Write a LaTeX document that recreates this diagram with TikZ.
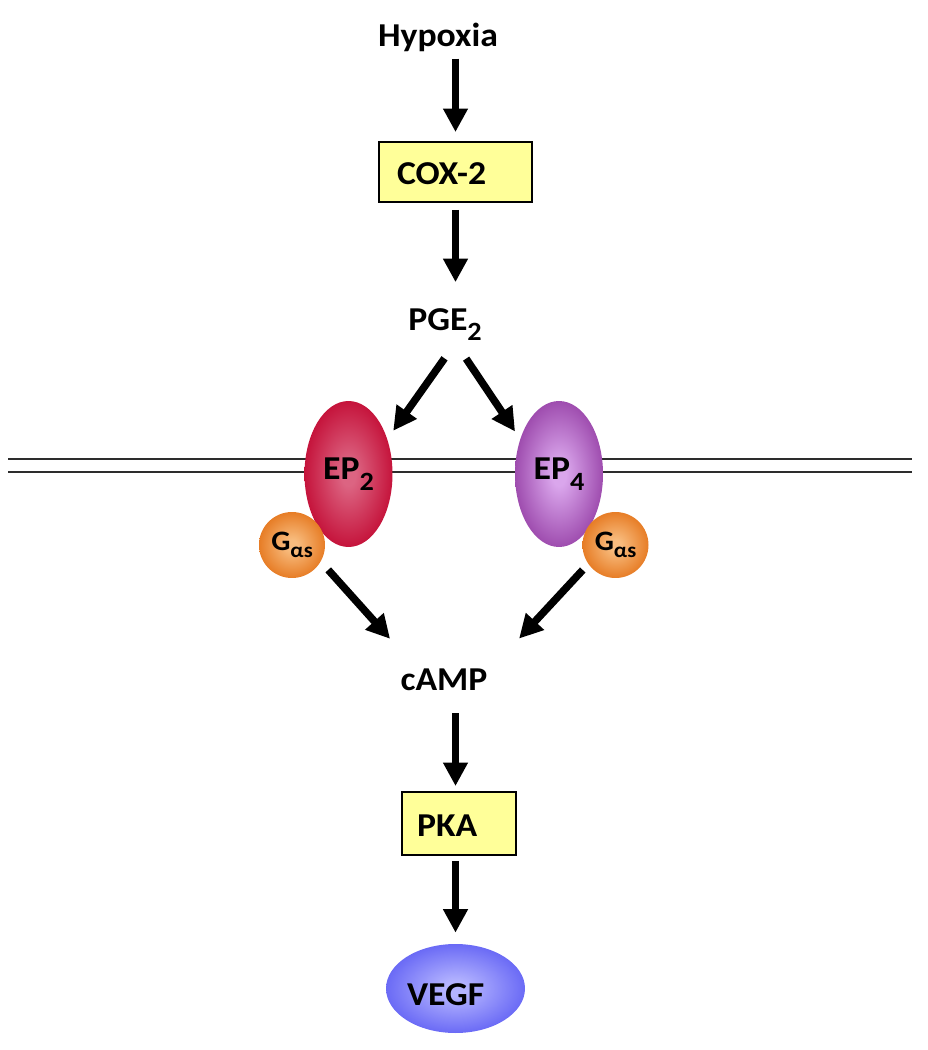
\documentclass[tikz,border=0pt]{standalone}
\usepackage{fontspec}
\setmainfont{Carlito}[FakeStretch=1.07]
\usetikzlibrary{arrows.meta,shapes.geometric}

\definecolor{boxyellow}{RGB}{255,255,153}
\definecolor{eptwoin}{RGB}{220,100,130}
\definecolor{eptwoout}{RGB}{196,16,56}
\definecolor{eptwoedge}{RGB}{176,10,46}
\definecolor{epfourin}{RGB}{218,166,236}
\definecolor{epfourout}{RGB}{150,64,166}
\definecolor{epfouredge}{RGB}{120,36,134}
\definecolor{gasin}{RGB}{248,188,126}
\definecolor{gasout}{RGB}{230,122,34}
\definecolor{gasedge}{RGB}{216,106,20}
\definecolor{vegfin}{RGB}{180,180,255}
\definecolor{vegfout}{RGB}{96,96,244}
\definecolor{vegfedge}{RGB}{78,78,234}
\definecolor{membranegray}{RGB}{45,45,45}

\pgfdeclareradialshading{eptwoshade}{\pgfpoint{0bp}{0bp}}{color(0bp)=(eptwoin); color(4bp)=(eptwoin); color(26bp)=(eptwoout); color(46bp)=(eptwoedge)}
\pgfdeclareradialshading{epfourshade}{\pgfpoint{0bp}{0bp}}{color(0bp)=(epfourin); color(4bp)=(epfourin); color(28bp)=(epfourout); color(46bp)=(epfouredge)}
\pgfdeclareradialshading{gasshade}{\pgfpoint{0bp}{0bp}}{color(0bp)=(gasin); color(4bp)=(gasin); color(26bp)=(gasout); color(46bp)=(gasedge)}
\pgfdeclareradialshading{vegfshade}{\pgfpoint{0bp}{0bp}}{color(0bp)=(vegfin); color(4bp)=(vegfin); color(28bp)=(vegfout); color(46bp)=(vegfedge)}

\newcommand{\lowsub}[1]{\raisebox{-6pt}{\fontsize{15}{15}\selectfont #1}}
\newcommand{\gas}{G\raisebox{-4pt}{\fontsize{12}{12}\selectfont αs}}

\begin{document}
\begin{tikzpicture}[x=0.02cm, y=-0.02cm,
    font=\fontsize{19}{22}\selectfont\bfseries,
    lbl/.style={inner sep=0pt},
    boxnode/.style={draw=black, line width=1.1pt, fill=boxyellow, minimum height=1.2cm,
        inner sep=0pt, align=left, text height=0.52cm, text depth=0pt},
    recep/.style={ellipse, shade, minimum width=1.76cm, minimum height=2.92cm, inner sep=0pt},
    gprot/.style={circle, shade, shading=gasshade, minimum size=1.32cm, inner sep=0pt,
        font=\fontsize{16}{18}\selectfont\bfseries},
    sig/.style={line width=0.15cm, -{Triangle[width=0.47cm,length=0.47cm]}},
    membrane/.style={draw=membranegray, line width=1.5pt}]
    \useasboundingbox (0,0) rectangle (927,1050);

    \node[lbl, anchor=base] at (438,47) (hyp) {Hypoxia};
    \node[boxnode, minimum width=3.06cm, text width=2.34cm] at (455.5,172) (cox) {COX-2};
    \node[lbl, minimum width=1.6cm, minimum height=0.72cm] at (445,324.5) (pge) {PGE\lowsub{2}};

    \draw[membrane] (8,459) -- (912,459);
    \draw[membrane] (8,472) -- (912,472);

    \node[recep, shading=eptwoshade] at (348.5,474) (ep2) {EP\lowsub{2}};
    \node[recep, shading=epfourshade] at (559,474) (ep4) {EP\lowsub{4}};
    \node[gprot] at (292,545) (gl) {\gas};
    \node[gprot] at (615.5,545) (gr) {\gas};

    \node[lbl, minimum width=2.2cm, minimum height=0.8cm] at (444,680) (camp) {cAMP};
    \node[boxnode, minimum width=2.28cm, minimum height=1.26cm, text width=1.68cm] at (459,823.5) (pka) {PKA};
    \node[ellipse, shade, shading=vegfshade, minimum width=2.78cm, minimum height=1.78cm, inner sep=0pt,
        text width=1.94cm, align=left, text height=0.66cm, text depth=0pt] at (455.5,988.5) (vegf) {VEGF};

    \path [sig] (cox.north |- hyp.south) edge[shorten <=0.12cm, shorten >=0.18cm] (cox.north);
    \path [sig] (cox.south) edge[shorten <=0.14cm, shorten >=0.48cm] (cox.south |- pge.north);
    \path [sig] (pge.south -| cox.south) edge[shorten <=0.38cm, shorten >=0.2cm] (ep2.42);
    \path [sig] (pge.south -| cox.south) edge[shorten <=0.38cm, shorten >=0.18cm] (ep4.138);
    \path [sig] (gl.-30) edge[shorten <=0.22cm, shorten >=0.56cm] (camp.150);
    \path [sig] (gr.215) edge[shorten <=0.16cm, shorten >=0.58cm] (camp.20);
    \path [sig] (camp.south -| cox.south) edge[shorten <=0.26cm, shorten >=0.1cm] (pka.north -| cox.south);
    \path [sig] (pka.south -| cox.south) edge[shorten <=0.1cm, shorten >=0.22cm] (vegf.north);
\end{tikzpicture}
\end{document}
